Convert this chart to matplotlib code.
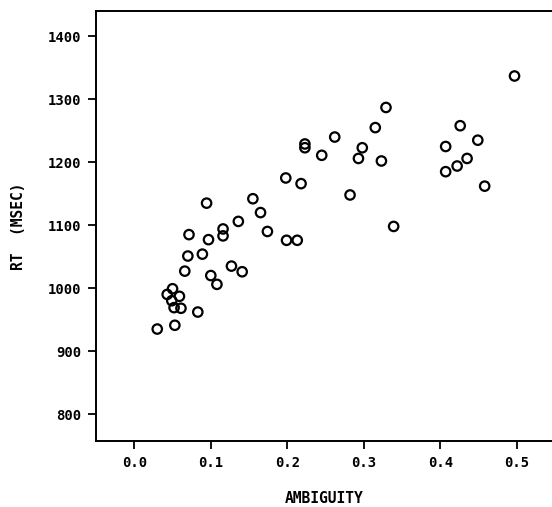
import matplotlib
matplotlib.use("Agg")
import matplotlib.pyplot as plt

# ambiguity vs reaction time
ambiguity = [0.030, 0.053, 0.043, 0.050, 0.049, 0.059, 0.052, 0.061, 0.083,
             0.066, 0.070, 0.0715, 0.089, 0.097, 0.0945, 0.100, 0.108, 0.116,
             0.116, 0.127, 0.141, 0.136, 0.155, 0.165, 0.174, 0.199, 0.213,
             0.198, 0.218, 0.223, 0.223, 0.245, 0.262, 0.282, 0.293, 0.298,
             0.315, 0.323, 0.329, 0.339, 0.407, 0.407, 0.422, 0.426, 0.435,
             0.449, 0.458, 0.497]
rt_msec = [935, 941, 990, 999, 980, 987, 969, 968, 962,
           1027, 1051, 1085, 1054, 1077, 1135, 1020, 1006, 1094,
           1083, 1035, 1026, 1106, 1142, 1120, 1090, 1076, 1076,
           1175, 1166, 1229, 1223, 1211, 1240, 1148, 1206, 1223,
           1255, 1202, 1287, 1098, 1225, 1185, 1194, 1258, 1206,
           1235, 1162, 1337]

xticks = [0.0, 0.1, 0.2, 0.3, 0.4, 0.5]
yticks = [800, 900, 1000, 1100, 1200, 1300, 1400]

font = "DejaVu Sans Mono"

fig = plt.figure(figsize=(5.52, 5.07), dpi=100)
ax = fig.add_axes([0.174, 0.130, 0.826, 0.848])

ax.scatter(ambiguity, rt_msec, s=46, facecolors="none", edgecolors="black",
           linewidths=1.6, zorder=3)

ax.set_xlim(-0.05, 0.546)
ax.set_ylim(757, 1440)
ax.set_xticks(xticks)
ax.set_yticks(yticks)
ax.set_xticklabels(["%.1f" % t for t in xticks], family=font, fontsize=10,
                   fontweight="bold")
ax.set_yticklabels([str(t) for t in yticks], family=font, fontsize=10,
                   fontweight="bold")

ax.spines["right"].set_visible(False)
for side in ["left", "top", "bottom"]:
    ax.spines[side].set_linewidth(1.4)
ax.tick_params(direction="out", length=5.5, width=1.3, pad=5)

ax.set_xlabel("AMBIGUITY", family=font, fontsize=10.5, fontweight="bold")
ax.set_ylabel("RT  (MSEC)", family=font, fontsize=10.5, fontweight="bold")
ax.xaxis.set_label_coords(0.5, -0.133)
ax.yaxis.set_label_coords(-0.169, 0.5)
ax.xaxis.label.set_va("center")
ax.yaxis.label.set_va("center")

plt.savefig("out.png", dpi=100)
